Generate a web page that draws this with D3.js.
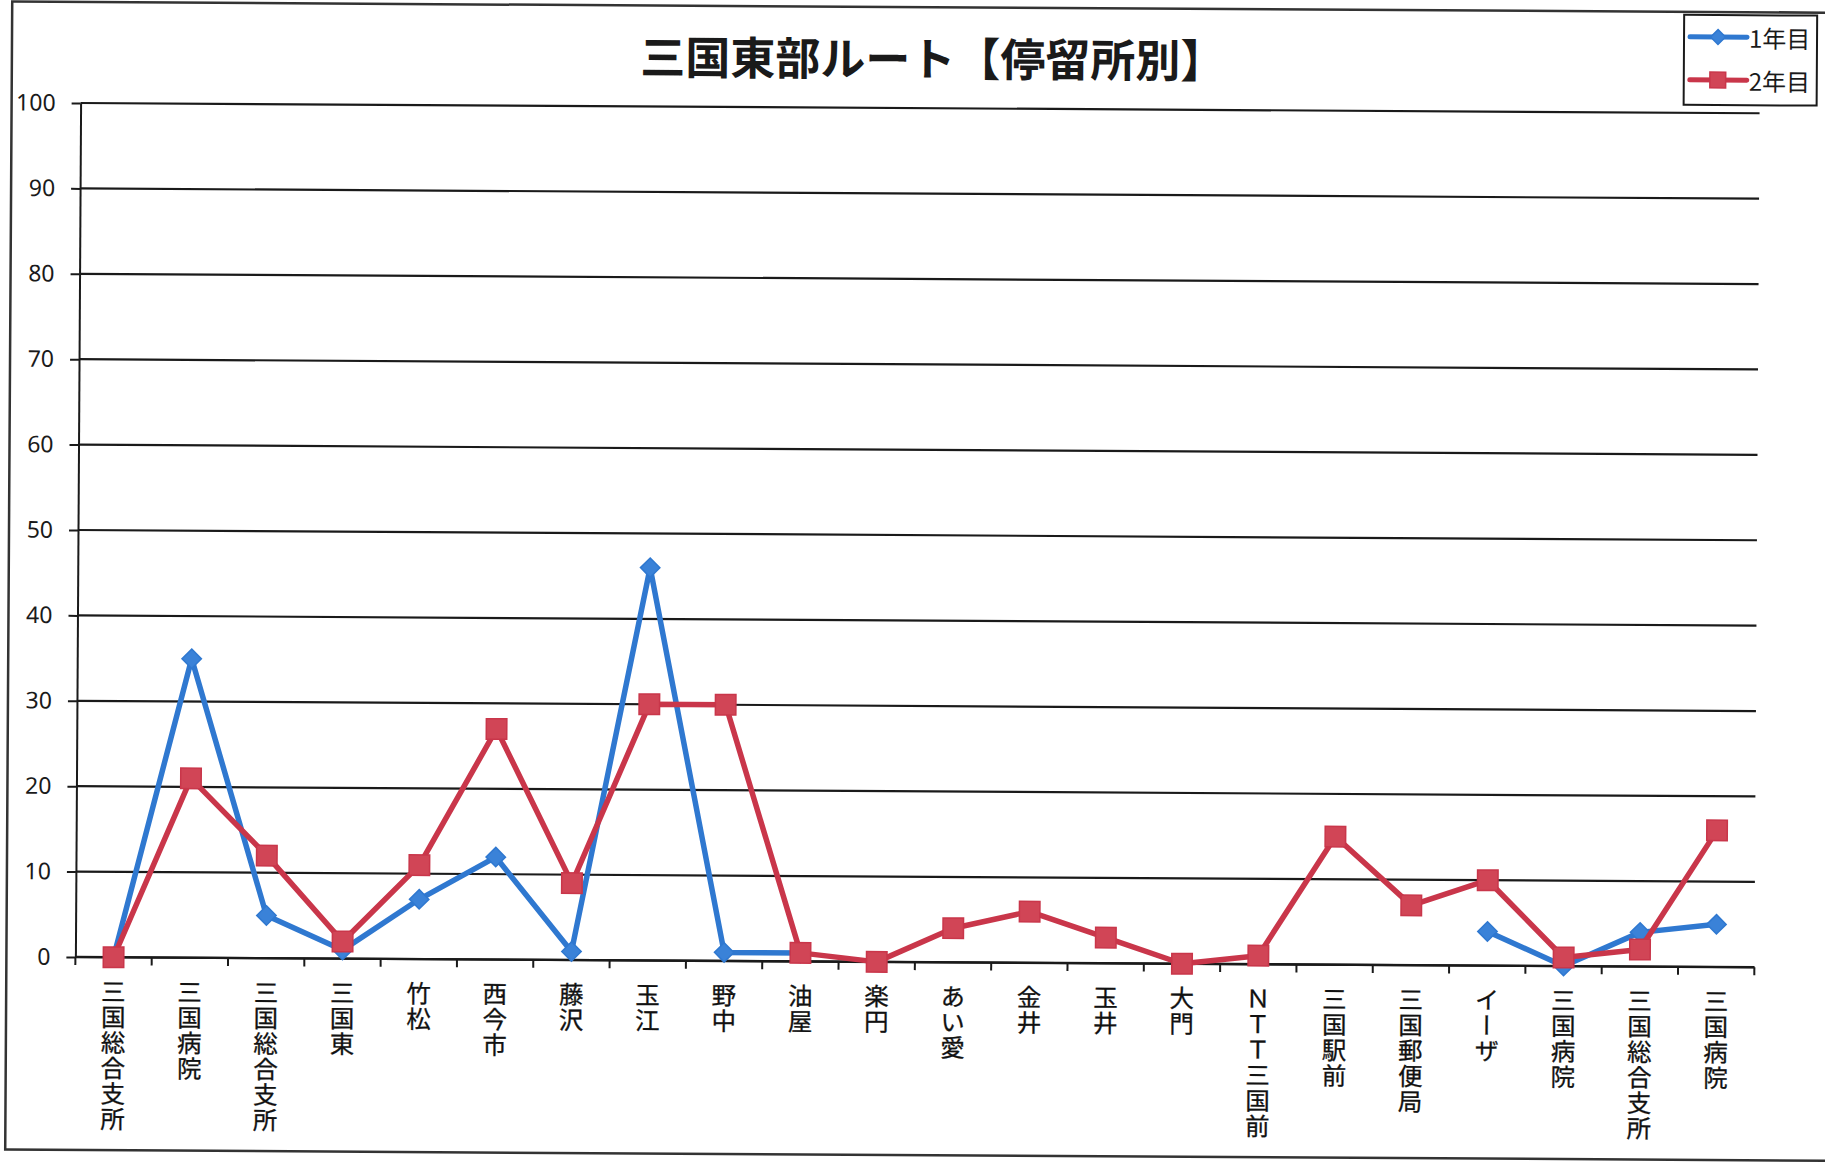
<!DOCTYPE html>
<html>
<head>
<meta charset="utf-8">
<script src="https://cdn.jsdelivr.net/npm/d3@7"></script>
<style>
  html, body { margin: 0; padding: 0; background: #ffffff; }
  svg { display: block; }
</style>
</head>
<body>
<svg id="chart" width="1825" height="1162"></svg>
<script>
// ---- data ----
const title = "三国東部ルート【停留所別】";
const categories = ["三国総合支所","三国病院","三国総合支所","三国東","竹松","西今市","藤沢","玉江","野中","油屋",
  "楽円","あい愛","金井","玉井","大門","ＮＴＴ三国前","三国駅前","三国郵便局","イーザ","三国病院","三国総合支所","三国病院"];
const seriesNames = ["1年目","2年目"];
const year1 = [0,35,5,1,7,12,1,46,1,1,null,null,null,null,null,null,null,null,4,0,4,5];
const year2 = [0,21,12,2,11,27,9,30,30,1,0,4,6,3,0,1,15,7,10,1,2,16];
const yTicks = [0,10,20,30,40,50,60,70,80,90,100];

// ---- layout ----
const W = 1825, H = 1162;
const plot = {left: 78, right: 1757, top: 103, bottom: 957};
const blue = "#2f78d0", blueFill = "#3a82d8";
const red = "#c9364a", redFill = "#d14556";
const cjk = "'Noto Sans CJK JP','Noto Sans',sans-serif";

const svg = d3.select("#chart");
svg.append("rect").attr("width", W).attr("height", H).attr("fill", "#ffffff");
const g = svg.append("g").attr("transform", "rotate(0.35, 78, 530)");

// outer frame
g.append("rect").attr("x", 9).attr("y", 2).attr("width", 1900).attr("height", 1148)
  .attr("fill", "none").attr("stroke", "#333").attr("stroke-width", 2.5);

const x = d3.scaleBand().domain(d3.range(categories.length)).range([plot.left, plot.right]);
const y = d3.scaleLinear().domain([0, 100]).range([plot.bottom, plot.top]);

// gridlines
g.append("g").selectAll("line").data(yTicks).join("line")
  .attr("x1", plot.left).attr("x2", plot.right)
  .attr("y1", d => y(d)).attr("y2", d => y(d))
  .attr("stroke", "#1a1a1a").attr("stroke-width", 2.2);

// y axis
const yAxis = g.append("g").attr("transform", `translate(${plot.left},0)`)
  .call(d3.axisLeft(y).tickValues(yTicks).tickSize(9).tickPadding(16).tickSizeOuter(0));
yAxis.select(".domain").attr("stroke", "#1a1a1a").attr("stroke-width", 2);
yAxis.selectAll(".tick line").attr("stroke", "#1a1a1a").attr("stroke-width", 2);
yAxis.selectAll(".tick text").attr("font-family", "'Noto Sans','Open Sans',sans-serif")
  .attr("font-size", 23).attr("fill", "#1a1a1a");

// x axis ticks at category boundaries
const bounds = d3.range(categories.length + 1).map(i => plot.left + i * x.step());
g.append("g").selectAll("line").data(bounds).join("line")
  .attr("x1", d => d).attr("x2", d => d)
  .attr("y1", plot.bottom).attr("y2", plot.bottom + 8)
  .attr("stroke", "#1a1a1a").attr("stroke-width", 2);
g.append("line").attr("x1", plot.left).attr("x2", plot.right)
  .attr("y1", plot.bottom).attr("y2", plot.bottom)
  .attr("stroke", "#1a1a1a").attr("stroke-width", 2.4);

// x labels (vertical)
g.append("g").selectAll("text").data(categories).join("text")
  .attr("x", (d, i) => x(i) + x.bandwidth() / 2)
  .attr("y", 979)
  .attr("font-family", cjk).attr("font-size", 24.5).attr("fill", "#111")
  .attr("stroke", "#111").attr("stroke-width", 0.3)
  .style("writing-mode", "vertical-rl").style("text-orientation", "upright")
  .style("letter-spacing", "1px")
  .text(d => d);

// lines
const cx = i => x(i) + x.bandwidth() / 2;
const lineGen = d3.line().defined(d => d != null).x((d, i) => cx(i)).y(d => y(d));
const diamond = d3.symbol().type(d3.symbolDiamond2).size(240);
const square = d3.symbol().type(d3.symbolSquare).size(420);

function drawSeries(data, color, fill, sym) {
  g.append("path").datum(data).attr("d", lineGen)
    .attr("fill", "none").attr("stroke", color).attr("stroke-width", 5.5)
    .attr("stroke-linejoin", "round");
  g.append("g").selectAll("path")
    .data(data.map((v, i) => ({v, i})).filter(d => d.v != null))
    .join("path")
    .attr("transform", d => `translate(${cx(d.i)},${y(d.v)})`)
    .attr("d", sym).attr("fill", fill).attr("stroke", color).attr("stroke-width", 1.5);
}
drawSeries(year1, blue, blueFill, diamond);
drawSeries(year2, red, redFill, square);

// title
g.append("text").attr("x", 930).attr("y", 51)
  .attr("text-anchor", "middle").attr("dominant-baseline", "central")
  .attr("font-family", cjk).attr("font-weight", "bold").attr("font-size", 45)
  .attr("fill", "#1a1a1a").text(title);

// legend
const lg = g.append("g");
lg.append("rect").attr("x", 1681).attr("y", 5).attr("width", 133).attr("height", 90)
  .attr("fill", "#ffffff").attr("stroke", "#1a1a1a").attr("stroke-width", 2);
const legendRows = [
  {name: seriesNames[0], color: blue, fill: blueFill, sym: d3.symbol().type(d3.symbolDiamond2).size(140), y: 27},
  {name: seriesNames[1], color: red, fill: redFill, sym: d3.symbol().type(d3.symbolSquare).size(250), y: 70}
];
legendRows.forEach(r => {
  lg.append("line").attr("x1", 1687).attr("x2", 1744).attr("y1", r.y).attr("y2", r.y)
    .attr("stroke", r.color).attr("stroke-width", 5).attr("stroke-linecap", "round");
  lg.append("path").attr("transform", `translate(1715,${r.y})`).attr("d", r.sym)
    .attr("fill", r.fill).attr("stroke", r.color).attr("stroke-width", 1.5);
  lg.append("text").attr("x", 1746).attr("y", r.y).attr("dominant-baseline", "central")
    .attr("font-family", cjk).attr("font-size", 24).attr("fill", "#1a1a1a").text(r.name);
});
</script>
</body>
</html>
